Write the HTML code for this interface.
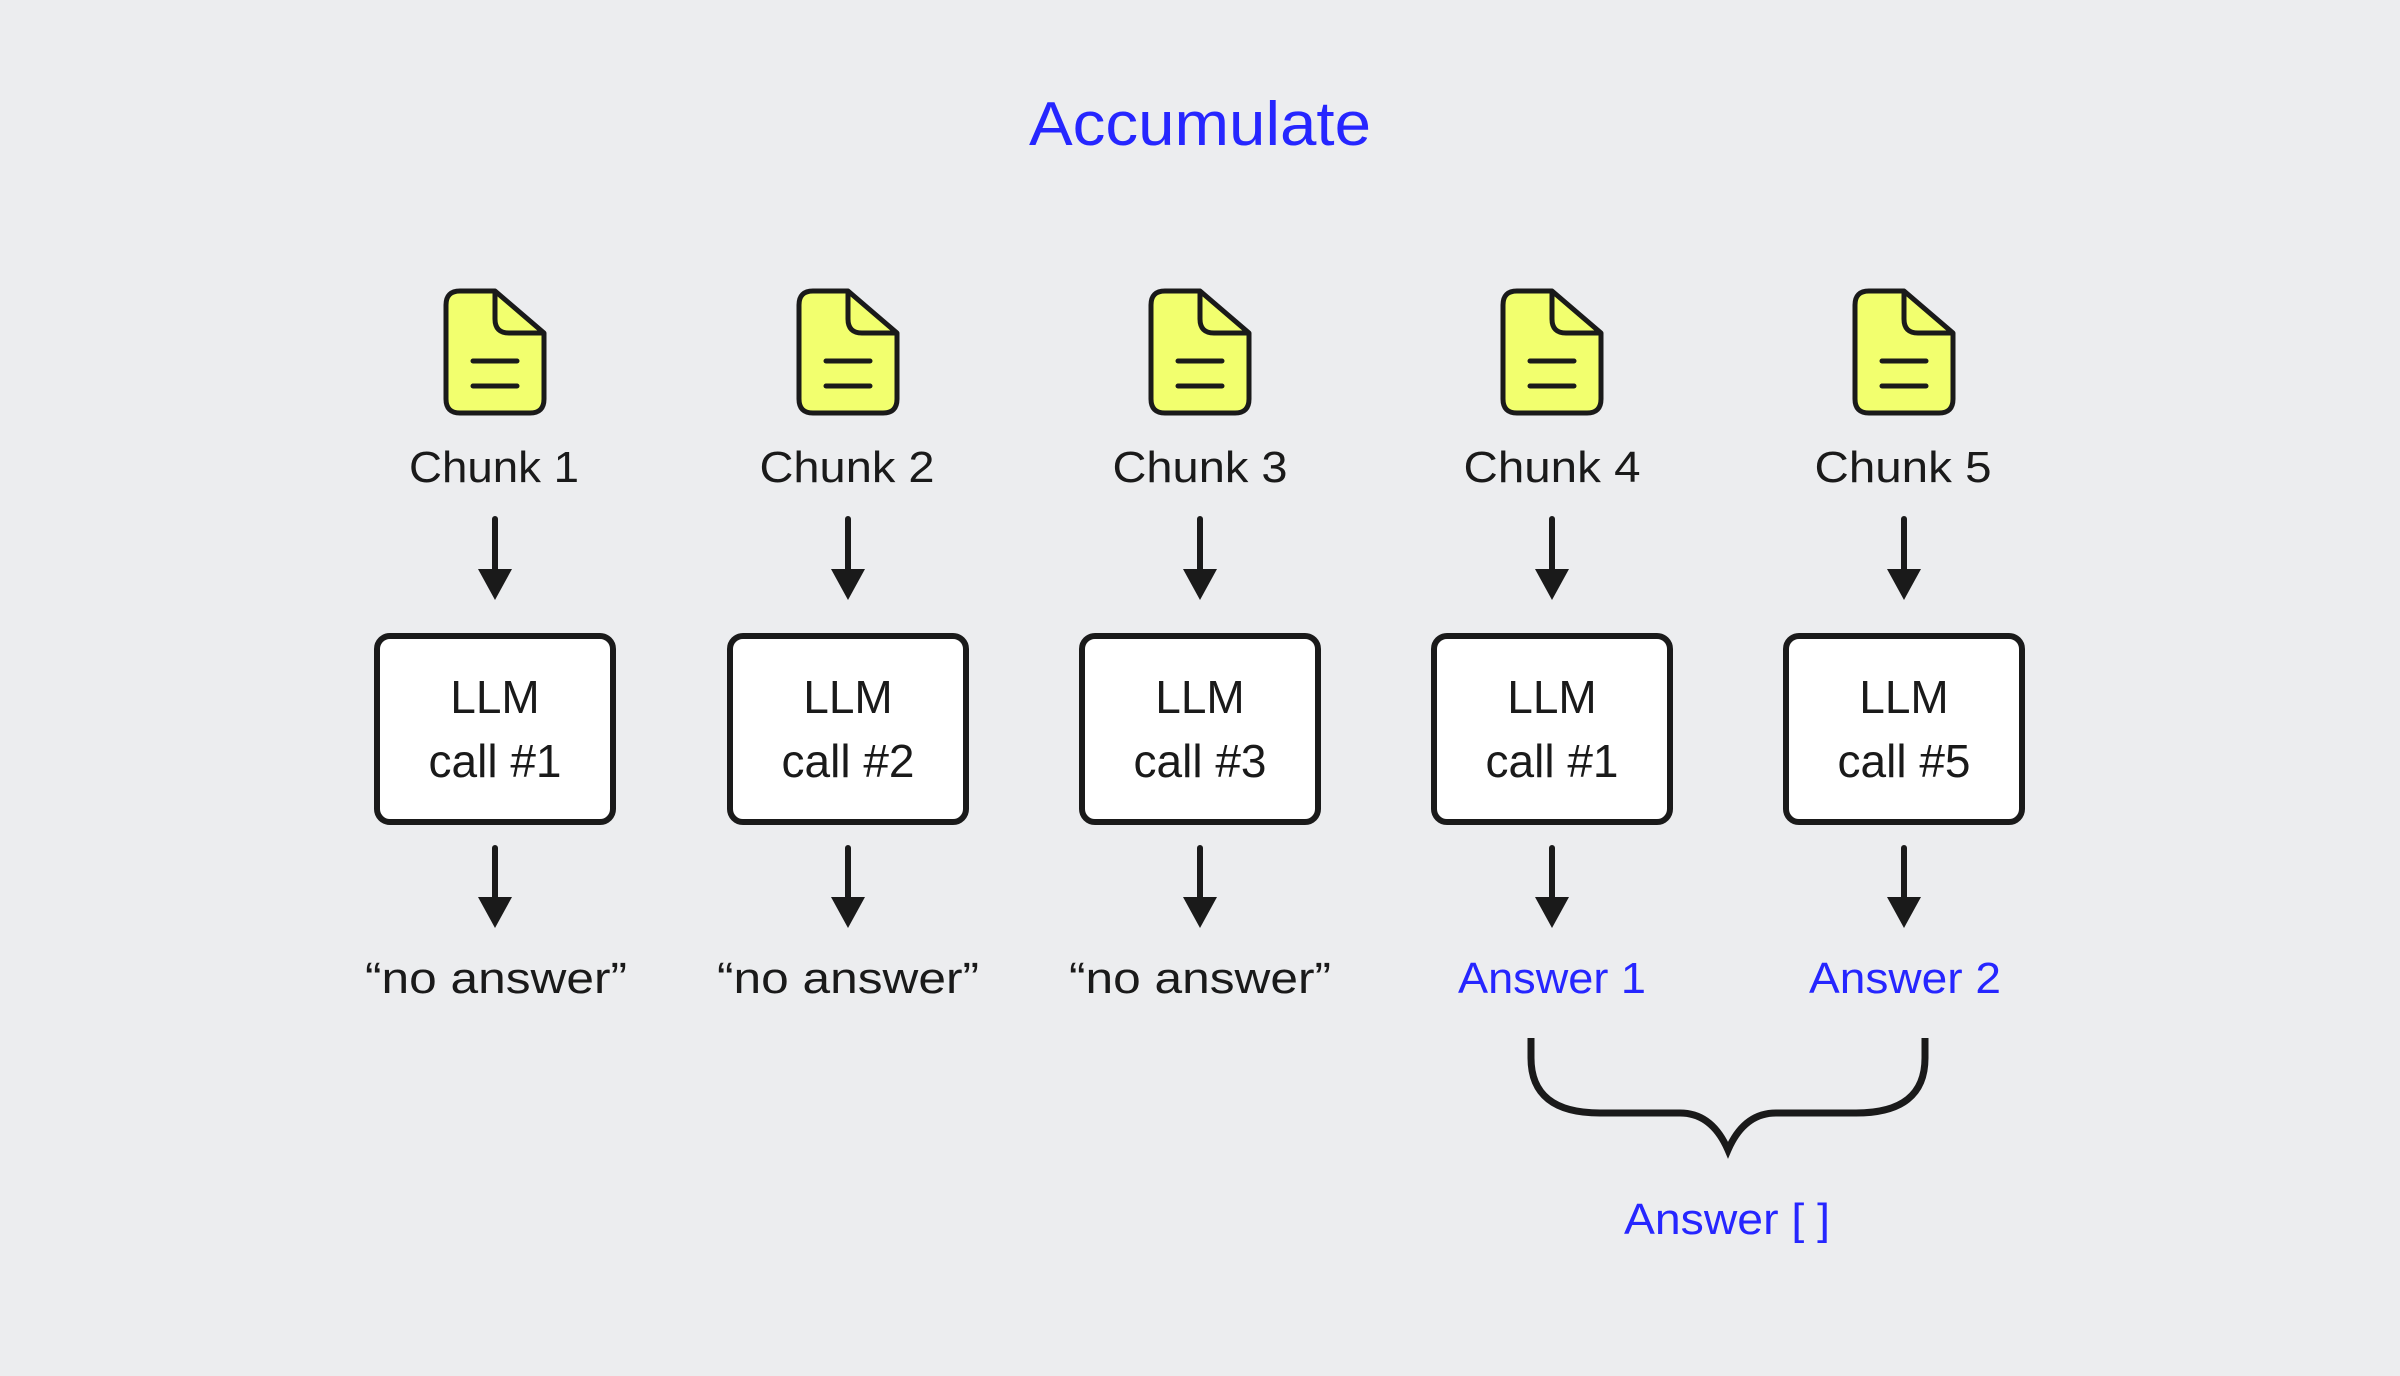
<!DOCTYPE html>
<html><head><meta charset="utf-8"><style>
html,body{margin:0;padding:0;background:#ECEDEF;}
svg{display:block;}
text{font-family:"Liberation Sans",Arial,sans-serif;}
</style></head><body>
<svg width="2400" height="1376" viewBox="0 0 2400 1376" xmlns="http://www.w3.org/2000/svg">
<rect width="2400" height="1376" fill="#ECEDEF"/>
<text x="1200" y="145" font-size="62" fill="#2626FF" text-anchor="middle" textLength="342" lengthAdjust="spacingAndGlyphs">Accumulate</text>
<defs>
<g id="col">
  <path d="M-35,291 H0 L49,333 V399 Q49,413 35,413 H-35 Q-49,413 -49,399 V305 Q-49,291 -35,291 Z" fill="#F2FF6E" stroke="#1a1a1a" stroke-width="5" stroke-linejoin="round"/>
  <path d="M0,291 V319 Q0,333 14,333 H49" fill="none" stroke="#1a1a1a" stroke-width="5" stroke-linejoin="round"/>
  <line x1="-22" y1="361" x2="22" y2="361" stroke="#1a1a1a" stroke-width="5" stroke-linecap="round"/>
  <line x1="-22" y1="386" x2="22" y2="386" stroke="#1a1a1a" stroke-width="5" stroke-linecap="round"/>
  <line x1="0" y1="519" x2="0" y2="575" stroke="#1a1a1a" stroke-width="6" stroke-linecap="round"/>
  <path d="M-17,569 H17 L0,600 Z" fill="#1a1a1a"/>
  <rect x="-118" y="636" width="236" height="186" rx="13" fill="#fff" stroke="#1a1a1a" stroke-width="6"/>
  <line x1="0" y1="848" x2="0" y2="902" stroke="#1a1a1a" stroke-width="6" stroke-linecap="round"/>
  <path d="M-17,897 H17 L0,928 Z" fill="#1a1a1a"/>
</g>
</defs>
<g fill="#1a1a1a" font-size="44" text-anchor="middle">
<use href="#col" x="495"/>
<use href="#col" x="848"/>
<use href="#col" x="1200"/>
<use href="#col" x="1552"/>
<use href="#col" x="1904"/>
<text x="494" y="482" textLength="170" lengthAdjust="spacingAndGlyphs">Chunk 1</text>
<text x="847" y="482" textLength="175" lengthAdjust="spacingAndGlyphs">Chunk 2</text>
<text x="1200" y="482" textLength="175" lengthAdjust="spacingAndGlyphs">Chunk 3</text>
<text x="1552" y="482" textLength="177" lengthAdjust="spacingAndGlyphs">Chunk 4</text>
<text x="1903" y="482" textLength="177" lengthAdjust="spacingAndGlyphs">Chunk 5</text>
<g font-size="46">
<text x="495" y="713">LLM</text><text x="495" y="777">call #1</text>
<text x="848" y="713">LLM</text><text x="848" y="777">call #2</text>
<text x="1200" y="713">LLM</text><text x="1200" y="777">call #3</text>
<text x="1552" y="713">LLM</text><text x="1552" y="777">call #1</text>
<text x="1904" y="713">LLM</text><text x="1904" y="777">call #5</text>
</g>
<text x="496" y="993" textLength="262" lengthAdjust="spacingAndGlyphs">“no answer”</text>
<text x="848" y="993" textLength="262" lengthAdjust="spacingAndGlyphs">“no answer”</text>
<text x="1200" y="993" textLength="262" lengthAdjust="spacingAndGlyphs">“no answer”</text>
<text x="1552" y="993" fill="#2626FF" textLength="188" lengthAdjust="spacingAndGlyphs">Answer 1</text>
<text x="1905" y="993" fill="#2626FF" textLength="192" lengthAdjust="spacingAndGlyphs">Answer 2</text>
<text x="1727" y="1234" fill="#2626FF" textLength="206" lengthAdjust="spacingAndGlyphs">Answer [ ]</text>
</g>
<path d="M1531,1038 V1058 Q1531,1113 1600,1113 H1680 Q1712,1113 1728,1150 Q1744,1113 1776,1113 H1856 Q1925,1113 1925,1058 V1038" fill="none" stroke="#1a1a1a" stroke-width="7"/>
</svg>
</body></html>
